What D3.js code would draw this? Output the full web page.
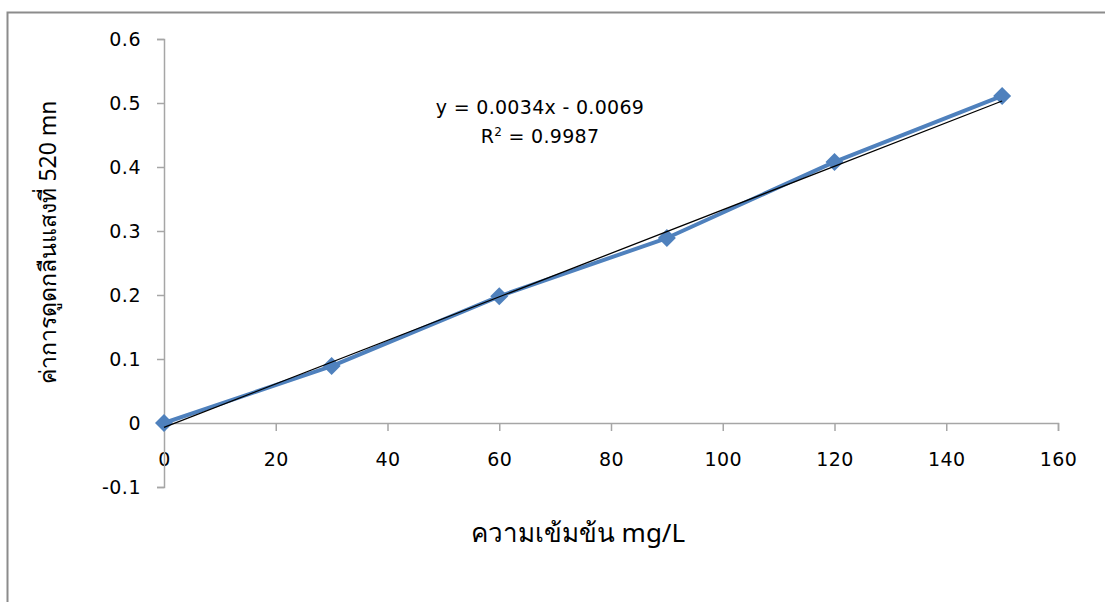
<!DOCTYPE html>
<html>
<head>
<meta charset="utf-8">
<script src="https://cdn.jsdelivr.net/npm/d3@7"></script>
<style>
  body { margin: 0; background: #fff; }
  svg { display: block; font-family: "DejaVu Sans", "Noto Sans", sans-serif; }
</style>
</head>
<body>
<div id="chart"></div>
<script>
// Data
const concentration = [0, 30, 60, 90, 120, 150];
const absorbance = [0, 0.089, 0.198, 0.289, 0.408, 0.511];
const trendSlope = 0.0034;
const trendIntercept = -0.0069;
const xTicks = [0, 20, 40, 60, 80, 100, 120, 140, 160];
const yTicks = [-0.1, 0, 0.1, 0.2, 0.3, 0.4, 0.5, 0.6];
const equationText = "y = 0.0034x - 0.0069";
const xTitle = "ความเข้มข้น mg/L";
const yTitle = "ค่าการดูดกลืนแสงที่ 520 mn";

const width = 1105;
const height = 602;
const seriesColor = "#4f81bd";
const axisColor = "#a6a6a6";

const svg = d3.select("#chart").append("svg")
    .attr("width", width)
    .attr("height", height);

// chart frame (only left and top edges are in view)
svg.append("path")
    .attr("d", `M7.5,${height} L7.5,12.5 L${width},12.5`)
    .attr("fill", "none")
    .attr("stroke", "#8c8c8c")
    .attr("stroke-width", 2);

const xScale = d3.scaleLinear().domain([0, 160]).range([164, 1058]);
const yScale = d3.scaleLinear().domain([-0.1, 0.6]).range([487, 39]);

// plain hyphen minus like the original, not the unicode one d3 uses
const yFormat = d => d === 0 ? "0" : d3.format(".1f")(d).replace("\u2212", "-");

// x axis sits at y = 0
const xAxis = svg.append("g")
    .attr("transform", `translate(0,${yScale(0)})`)
    .call(d3.axisBottom(xScale).tickValues(xTicks).tickSize(8).tickPadding(22).tickFormat(d3.format("d")));
const yAxis = svg.append("g")
    .attr("transform", `translate(${xScale(0)},0)`)
    .call(d3.axisLeft(yScale).tickValues(yTicks).tickSize(7).tickPadding(16).tickFormat(yFormat));

for (const ax of [xAxis, yAxis]) {
    ax.select(".domain").attr("stroke", axisColor).attr("stroke-width", 1.5);
    ax.selectAll(".tick line").attr("stroke", axisColor).attr("stroke-width", 1.5);
    ax.selectAll(".tick text")
        .attr("fill", "#000")
        .style("font-family", "'DejaVu Sans', sans-serif")
        .style("font-size", "19px")
        .style("letter-spacing", "0.5px");
}

// series line
svg.append("path")
    .datum(concentration.map((c, i) => [c, absorbance[i]]))
    .attr("fill", "none")
    .attr("stroke", seriesColor)
    .attr("stroke-width", 4)
    .attr("stroke-linejoin", "round")
    .attr("d", d3.line().x(d => xScale(d[0])).y(d => yScale(d[1])));

// diamond markers
svg.append("g").selectAll("path")
    .data(concentration.map((c, i) => [c, absorbance[i]]))
    .join("path")
    .attr("transform", d => `translate(${xScale(d[0])},${yScale(d[1])})`)
    .attr("d", "M0,-9 L9,0 L0,9 L-9,0 Z")
    .attr("fill", seriesColor);

// linear trendline
const trendX = d3.extent(concentration);
svg.append("line")
    .attr("x1", xScale(trendX[0]))
    .attr("y1", yScale(trendSlope * trendX[0] + trendIntercept))
    .attr("x2", xScale(trendX[1]))
    .attr("y2", yScale(trendSlope * trendX[1] + trendIntercept))
    .attr("stroke", "#000")
    .attr("stroke-width", 1.3);

// equation label
const eq = svg.append("text")
    .attr("text-anchor", "middle")
    .style("font-size", "19px")
    .style("letter-spacing", "0.3px");
eq.append("tspan").attr("x", 540).attr("y", 114).text(equationText);
const r2 = eq.append("tspan").attr("x", 540).attr("y", 143);
r2.append("tspan").text("R");
r2.append("tspan").attr("dy", -7).style("font-size", "12px").text("2");
r2.append("tspan").attr("dy", 7).text(" = 0.9987");

// axis titles
svg.append("text")
    .attr("x", 578)
    .attr("y", 542)
    .attr("text-anchor", "middle")
    .style("font-family", "'Noto Sans', sans-serif")
    .style("font-size", "26px")
    .text(xTitle);

svg.append("text")
    .attr("transform", "translate(56,242) rotate(-90)")
    .attr("text-anchor", "middle")
    .style("font-family", "'Noto Sans', sans-serif")
    .style("font-size", "23px")
    .text(yTitle);
</script>
</body>
</html>
